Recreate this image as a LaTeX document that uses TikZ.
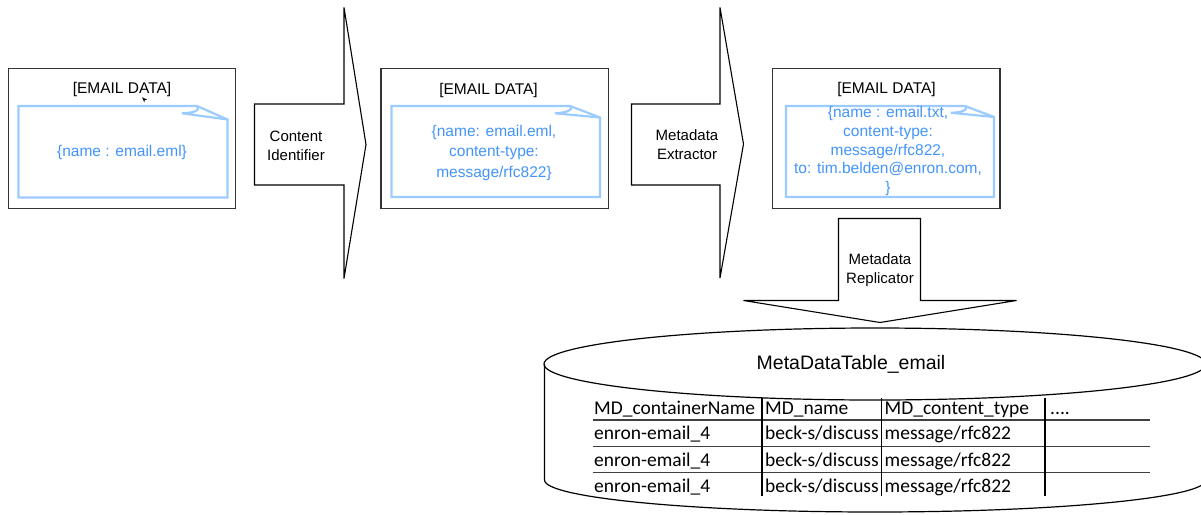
\documentclass[tikz,border=0pt]{standalone}
\usepackage{fontspec}
\setmainfont{Liberation Sans}
\newfontfamily\tablefont{Carlito}
\definecolor{notetext}{RGB}{66,148,252}
\definecolor{noteline}{RGB}{155,203,255}

\begin{document}
\begin{tikzpicture}[x=1pt,y=-1pt,
  frame/.style={draw=black!80, line width=1.3pt},
  note/.style={draw=noteline, line width=2.2pt, line join=miter},
  blockarrow/.style={draw=black, line width=1.1pt, fill=white, line join=miter},
  boxtitle/.style={font=\fontsize{15.5}{18}\selectfont, text=black, inner sep=0pt},
  content/.style={font=\fontsize{15.5}{20.5}\selectfont, text=notetext, align=center, inner sep=0pt},
  content3/.style={font=\fontsize{15.5}{18.7}\selectfont, text=notetext, align=center, inner sep=0pt},
  steplabel/.style={font=\fontsize{15}{18.8}\selectfont, align=center, inner sep=0pt},
  cell/.style={font=\tablefont\fontsize{19.5}{22}\selectfont, anchor=base west, inner sep=0pt},
  rowline/.style={draw=black!75, line width=1.6pt},
  colline/.style={draw=black, line width=1.2pt},
  drum/.style={draw=black, line width=1.2pt}]

\useasboundingbox (0,0) rectangle (1201,514);
\clip (0,0) rectangle (1201,514);

% ---------- data box 1 ----------
\draw[frame] (8.5,68.5) rectangle (235.5,208.5);
\node[boxtitle] (t1) at (122,89) {[EMAIL DATA]};
\draw[note] (197,106) -- (18.5,106) -- (18.5,197.5) -- (227.5,197.5) -- (227.5,119.5) -- cycle;
\draw[note] (197,106) .. controls (201,111) and (192,113) .. (182,113.3) -- (227.5,119.5);
\node[content] (c1) at (122,152) {\{name : email.eml\}};
\fill (142,97.3) -- (147.2,99.6) -- (144.6,100.2) -- (144.4,102.6) -- cycle;

% ---------- step 1 ----------
\draw[blockarrow] (254.5,104) -- (344,104) -- (344,7.5) -- (366,144.5) -- (344,278.5)
  -- (344,185) -- (254.5,185) -- cycle;
\node[steplabel] (s1) at (296,145.5) {Content\\Identifier};

% ---------- data box 2 ----------
\draw[frame] (381,68.5) rectangle (608.5,208.5);
\node[boxtitle] (t2) at (488.5,90.5) {[EMAIL DATA]};
\draw[note] (570,106) -- (391.5,106) -- (391.5,197) -- (600,197) -- (600,117.5) -- cycle;
\draw[note] (570,106) .. controls (574,110.5) and (565,112.8) .. (555,113.3) -- (600,117.5);
\node[content] (c2) at (494,152.5) {\{name: email.eml,\\content-type:\\message/rfc822\}};

% ---------- step 2 ----------
\draw[blockarrow] (631.5,104) -- (720,104) -- (720,7.5) -- (743.5,144) -- (720,278)
  -- (720,185) -- (631.5,185) -- cycle;
\node[steplabel] (s2) at (687,145) {Metadata\\Extractor};

% ---------- data box 3 ----------
\draw[frame] (772.5,68.5) rectangle (1000,208.5);
\node[boxtitle] (t3) at (886.5,89.5) {[EMAIL DATA]};
\draw[note] (965,106) -- (786,106) -- (786,197) -- (994,197) -- (994,117) -- cycle;
\draw[note] (965,106) .. controls (969,110.5) and (960,112.5) .. (951,112.8) -- (994,117);
\node[content3] (c3) at (888,151) {\{name : email.txt,\\content-type:\\message/rfc822,\\to: tim.belden@enron.com,\\\}};

% ---------- step 3 ----------
\draw[blockarrow] (838.5,218.5) -- (838.5,300.5) -- (743.5,300.5) -- (880,322.5)
  -- (1016.5,300.5) -- (920.5,300.5) -- (920.5,218.5) -- cycle;
\node[steplabel] (s3) at (880,270.5) {Metadata\\Replicator};

% ---------- metadata table drum ----------
\draw[drum] (544.5,364) -- (544.5,480)
  .. controls (544.5,497.7) and (692.2,512) .. (875,512)
  .. controls (1057.8,512) and (1206,497.7) .. (1206,480) -- (1206,364);
\draw[drum] (875,364) ellipse [x radius=331pt, y radius=36pt];
\node[font=\fontsize{19.5}{22}\selectfont, inner sep=0pt] (tbl) at (851,364) {MetaDataTable\_email};

% table rules
\draw[rowline] (593,420) -- (1150,420);
\draw[rowline] (593,446.5) -- (1150,446.5);
\draw[rowline] (593,472.5) -- (1150,472.5);
\draw[colline] (762,398) -- (762,496);
\draw[colline] (881.5,398) -- (881.5,496);
\draw[colline] (1045,398) -- (1045,496);

% header
\node[cell] (h1) at (594,414) {MD\_containerName};
\node[cell] (h2) at (765,414) {MD\_name};
\node[cell] (h3) at (884.5,414) {MD\_content\_type};
\node[cell] (h4) at (1050,414) {....};
% rows
\foreach \yy/\k in {439.5/1,466/2,492.5/3}{
  \node[cell] (r\k a) at (594,\yy) {enron-email\_4};
  \begin{scope}
    \clip (763,\yy-20) rectangle (881,\yy+8);
    \node[cell] (r\k b) at (765,\yy) {beck-s/discuss};
  \end{scope}
  \node[cell] (r\k c) at (884.5,\yy) {message/rfc822};
}
\end{tikzpicture}
\end{document}
